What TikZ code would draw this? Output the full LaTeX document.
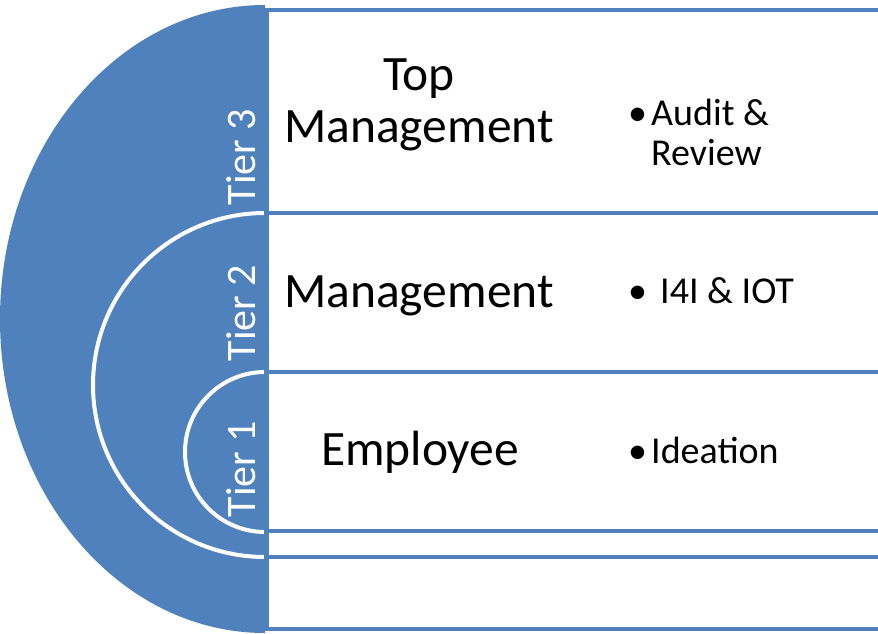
\documentclass[tikz,border=0pt]{standalone}
\usepackage{fontspec}
\setmainfont{Carlito}
\definecolor{tierblue}{HTML}{4F81BD}
\begin{document}
\begin{tikzpicture}[x=1pt,y=-1pt,
  rowline/.style={draw=tierblue,line width=4.5pt},
  tierarc/.style={draw=white,line width=4pt},
  tierlabel/.style={text=white,inner sep=0pt,anchor=base,rotate=90,font=\fontsize{42}{44}\selectfont},
  maintext/.style={inner sep=0pt,anchor=base,align=center,font=\fontsize{49.5}{52}\selectfont},
  bullettext/.style={inner sep=0pt,anchor=base west,font=\fontsize{38}{40}\selectfont}]
\useasboundingbox (0,0) rectangle (878,634);
% big blue half ellipse
\fill[tierblue] (265,5) arc[start angle=270,end angle=90,x radius=265,y radius=314] -- cycle;
% tier arcs
\draw[tierarc] (265,213) arc[start angle=270,end angle=90,radius=172];
\draw[tierarc] (265,372) arc[start angle=270,end angle=90,radius=80];
% row lines
\coordinate (v1) at (266,8);
\coordinate (v2) at (266,631);
\foreach \yy/\nm in {10/a,213/b,372/c,531/d,557/e,629/f}{
  \coordinate (l\nm) at (266,\yy);
  \coordinate (r\nm) at (878,\yy);
  \draw[rowline] (l\nm) -- (r\nm);
}
\draw[draw=tierblue,line width=5pt] (v1) -- (v2);
% tier labels
\node[tierlabel] (t3) at (255,157) {Tier 3};
\node[tierlabel] (t2) at (255,313) {Tier 2};
\node[tierlabel] (t1) at (255,469) {Tier 1};
% main texts
\node[maintext] (top) at (419,142) {Top\\Management};
\node[maintext] (mgmt) at (419,307) {Management};
\node[maintext] (emp) at (420,465) {Employee};
% bullet texts
\node[bullettext] (b3) at (628,125) {\makebox[23pt][l]{•}\begin{tabular}[t]{@{}l@{}}Audit \&\\Review\end{tabular}};
\node[bullettext] (b2) at (628,303) {\makebox[32pt][l]{•}I4I \& IOT};
\node[bullettext] (b1) at (628,463) {\makebox[23pt][l]{•}Ideation};
\end{tikzpicture}
\end{document}
